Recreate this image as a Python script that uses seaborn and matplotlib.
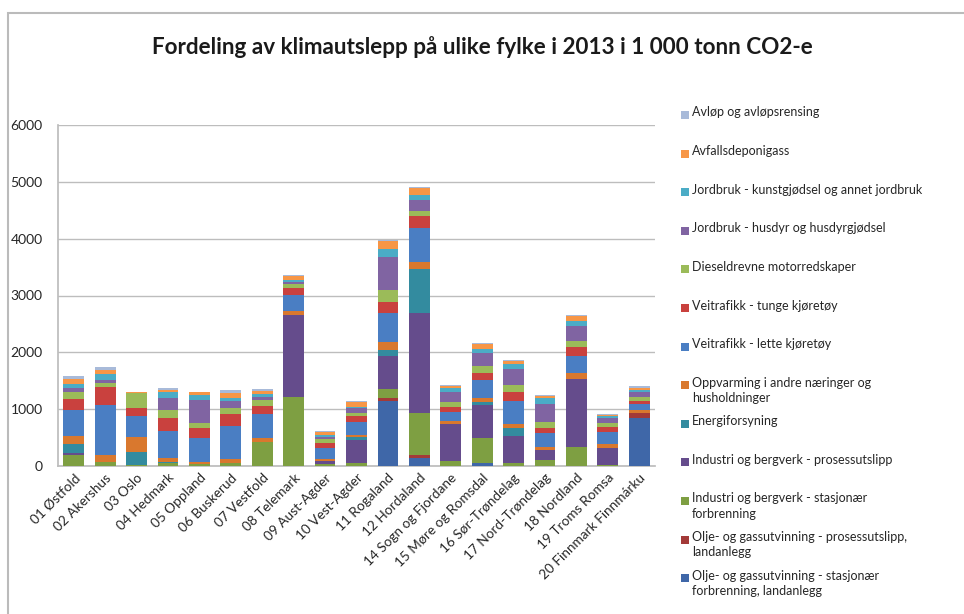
import numpy as np
import pandas as pd
import matplotlib
matplotlib.use("Agg")
import matplotlib.pyplot as plt
import seaborn as sns
from matplotlib.patches import Rectangle

categories = ["01 Østfold", "02 Akershus", "03 Oslo", "04 Hedmark", "05 Oppland",
              "06 Buskerud", "07 Vestfold", "08 Telemark", "09 Aust-Agder",
              "10 Vest-Agder", "11 Rogaland", "12 Hordaland", "14 Sogn og Fjordane",
              "15 Møre og Romsdal", "16 Sør-Trøndelag", "17 Nord-Trøndelag",
              "18 Nordland", "19 Troms Romsa", "20 Finnmark Finnmárku"]

# series, bottom of stack first
olje_stasjonaer = [0, 0, 0, 0, 0, 0, 0, 0, 0, 0, 1142, 146, 0, 47, 0, 0, 0, 0, 838]
olje_prosess = [0, 0, 0, 0, 0, 0, 0, 0, 0, 0, 47, 47, 0, 0, 0, 0, 0, 0, 88]
industri_stasjonaer = [200, 75, 10, 50, 30, 50, 428, 1218, 40, 47, 164, 744, 88, 451, 59, 105, 340, 10, 15]
industri_prosess = [30, 0, 0, 0, 0, 0, 0, 1447, 50, 410, 586, 1763, 650, 574, 469, 176, 1189, 299, 0]
energiforsyning = [160, 0, 240, 20, 0, 10, 0, 0, 0, 50, 100, 773, 0, 47, 146, 0, 0, 0, 0]
oppvarming = [130, 115, 265, 75, 45, 70, 70, 59, 30, 40, 135, 117, 53, 70, 64, 59, 111, 82, 45]
veitrafikk_lette = [470, 880, 365, 470, 420, 575, 410, 293, 205, 234, 510, 603, 164, 322, 404, 234, 299, 205, 100]
veitrafikk_tunge = [195, 320, 135, 235, 165, 205, 152, 123, 88, 100, 193, 199, 88, 117, 164, 100, 158, 88, 59]
diesel = [110, 70, 265, 140, 100, 105, 100, 59, 70, 47, 217, 88, 88, 129, 117, 94, 105, 64, 76]
jordbruk_husdyr = [70, 45, 0, 210, 410, 130, 47, 41, 35, 88, 586, 193, 176, 223, 275, 316, 258, 88, 88]
jordbruk_kunst = [70, 105, 0, 100, 88, 60, 53, 41, 25, 30, 146, 88, 59, 76, 94, 117, 94, 41, 30]
avfallsdeponigass = [100, 80, 20, 45, 40, 88, 59, 70, 59, 76, 135, 135, 41, 88, 59, 35, 82, 20, 30]
avlop = [40, 45, 0, 20, 10, 45, 35, 10, 10, 30, 20, 15, 15, 15, 20, 20, 15, 25, 30]

series_labels = [
    "Olje- og gassutvinning - stasjonær\nforbrenning, landanlegg",
    "Olje- og gassutvinning - prosessutslipp,\nlandanlegg",
    "Industri og bergverk - stasjonær\nforbrenning",
    "Industri og bergverk - prosessutslipp",
    "Energiforsyning",
    "Oppvarming i andre næringer og\nhusholdninger",
    "Veitrafikk - lette kjøretøy",
    "Veitrafikk - tunge kjøretøy",
    "Dieseldrevne motorredskaper",
    "Jordbruk - husdyr og husdyrgjødsel",
    "Jordbruk - kunstgjødsel og annet jordbruk",
    "Avfallsdeponigass",
    "Avløp og avløpsrensing",
]
series_values = [olje_stasjonaer, olje_prosess, industri_stasjonaer, industri_prosess,
                 energiforsyning, oppvarming, veitrafikk_lette, veitrafikk_tunge, diesel,
                 jordbruk_husdyr, jordbruk_kunst, avfallsdeponigass, avlop]
colors = ["#3F67A8", "#A33A38", "#7E9F42", "#654C8C", "#338B9F", "#D9782E",
          "#4A7EC3", "#C9413E", "#9BBB59", "#8064A2", "#4BACC6", "#F79646", "#A8BAD9"]

yticks = [0, 1000, 2000, 3000, 4000, 5000, 6000]

sns.set_theme(style="white")
FONT = ["Lato", "DejaVu Sans"]
plt.rcParams["font.family"] = FONT
TXT = "#262626"

fig = plt.figure(figsize=(9.64, 6.14), dpi=100)
ax = fig.add_axes([58 / 964, 1 - 466 / 614, (655 - 58) / 964, (466 - 125) / 614])

df = pd.DataFrame({lab: vals for lab, vals in zip(series_labels, series_values)})
df["fylke"] = categories
cum = df[series_labels].cumsum(axis=1)

# draw cumulative totals from the top layer downwards
for i in range(len(series_labels) - 1, -1, -1):
    sns.barplot(x=df["fylke"], y=cum[series_labels[i]], color=colors[i], saturation=1,
                width=0.66, ax=ax, zorder=3, linewidth=0)

ax.set_ylim(0, 6000)
ax.set_yticks(yticks)
ax.set_yticklabels([str(v) for v in yticks], fontsize=10, color=TXT)
ax.yaxis.grid(True, color="#BDBDBD", linewidth=1.0, zorder=0)
ax.set_axisbelow(True)
ax.set_xlabel("")
ax.set_ylabel("")
for s in ["top", "right"]:
    ax.spines[s].set_visible(False)
ax.spines["left"].set_color("#BDBDBD")
ax.spines["bottom"].set_color("#BDBDBD")
ax.tick_params(axis="y", length=0, pad=11)
ax.tick_params(axis="x", length=0, pad=4)
ax.set_xticks(range(len(categories)))
ax.set_xticklabels(categories, rotation=45, ha="right", rotation_mode="anchor",
                   fontsize=9.8, color=TXT)

# title
title = fig.text(482 / 964, 1 - 47 / 614, "Fordeling av klimautslepp på ulike fylke i 2013 i 1 000 tonn CO2-e",
                 ha="center", va="center", fontsize=18, fontweight="bold", color="#1a1a1a")
fig.canvas.draw()
r = fig.canvas.get_renderer()
w = title.get_window_extent(r).width
title.set_fontsize(18 * 665 / w)

# legend (top entry first)
pitch = 38.6
for k, i in enumerate(range(len(series_labels) - 1, -1, -1)):
    yc = 115 + k * pitch
    fig.patches.append(Rectangle((681 / 964, 1 - (yc + 4) / 614), 8 / 964, 8 / 614,
                                 transform=fig.transFigure, facecolor=colors[i],
                                 edgecolor="none"))
    fig.text(692 / 964, 1 - (yc - 8.5) / 614, series_labels[i], ha="left", va="top",
             fontsize=9, color=TXT, linespacing=1.3)

# outer frame
fig.patches.append(Rectangle((8 / 964, -0.1), 2, 1 - 13 / 614 + 0.1, transform=fig.transFigure,
                             fill=False, edgecolor="#BBBBBB", linewidth=1.5))

fig.savefig("out.png", dpi=100)
